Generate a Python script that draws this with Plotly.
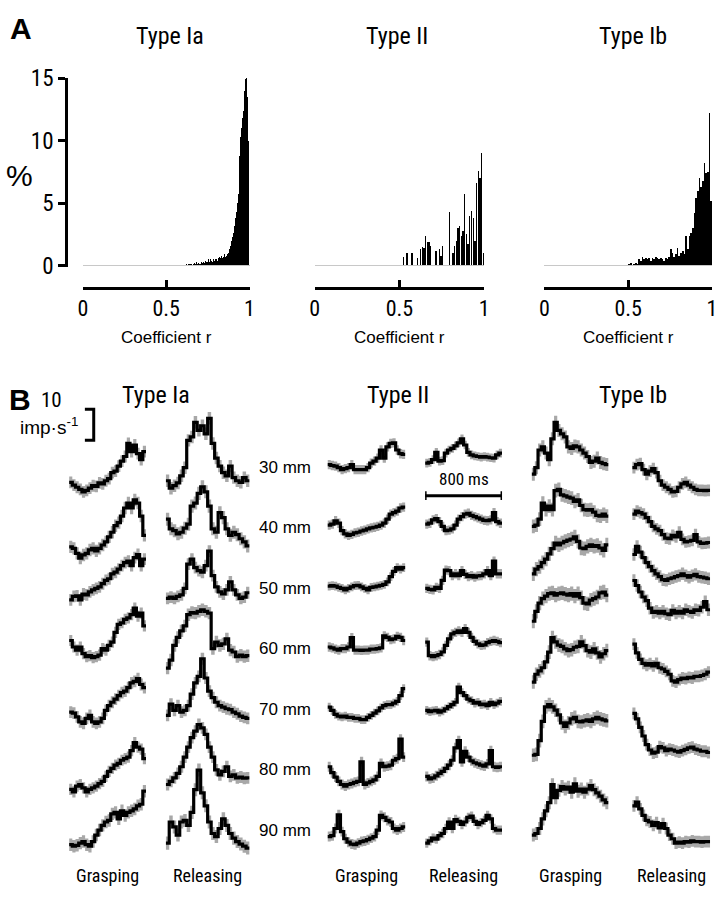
import numpy as np
import plotly.graph_objects as go

W, H = 724, 899
FONT = "Liberation Sans, Arial, sans-serif"
FONT_N = "Liberation Sans Narrow, Arial Narrow, Roboto Condensed, Liberation Sans, Arial, sans-serif"

# ---------------- Panel A data: distribution of correlation coefficient r (%) ----------------
R_IA = np.round(np.arange(0.600, 1.0, 0.005) + 0.0025, 4)
PCT_IA = [0, 0, 0.1, 0, 0.1, 0, 0.1, 0.1, 0, 0.1, 0.1, 0, 0.1, 0.2, 0.1, 0.1, 0.3, 0.1, 0.2, 0.1,
          0.2, 0.1, 0.3, 0.2, 0.3, 0.2, 0.3, 0.4, 0.3, 0.3, 0.5, 0.3, 0.4, 0.5, 0.4, 0.3, 0.5, 0.4, 0.6, 0.5,
          0.5, 0.4, 0.6, 0.7, 0.5, 0.6, 0.8, 0.6, 0.7, 0.9, 1.2, 0.7, 0.8, 0.9, 1.0, 1.1, 1.3, 1.6, 2.0, 2.3,
          2.6, 2.8, 3.2, 3.8, 4.3, 5.0, 5.7, 7.2, 8.8, 10.3, 11.0, 11.8, 12.4, 13.2, 14.0, 14.9, 15.0, 13.5, 10.0, 4.0]
R_II = np.round(np.arange(0.50, 1.0, 0.01) + 0.005, 3)
PCT_II = [0, 0, 0.65, 0, 1.0, 0, 0, 1.0, 0, 0,
          0.6, 0, 1.3, 1.5, 1.4, 2.4, 1.9, 1.9, 1.6, 0,
          0, 1.2, 0, 1.3, 0.8, 1.6, 0, 0, 0, 4.3,
          0, 1.0, 1.6, 2.0, 3.0, 3.2, 2.4, 2.8, 5.7, 2.5,
          1.7, 4.0, 4.4, 3.8, 2.0, 6.6, 7.6, 7.0, 9.0, 1.0]
R_IB = np.round(np.arange(0.50, 1.0, 0.01) + 0.005, 3)
PCT_IB = [0.1, 0.2, 0, 0.1, 0.2, 0.1, 0.5, 0.4, 0.7, 0.5,
          0.6, 0.5, 0.6, 0.4, 0.6, 0.5, 0.7, 0.6, 0.5, 0.6,
          0.5, 0.4, 0.6, 0.5, 0.7, 1.3, 1.0, 0.7, 0.9, 1.4,
          0.8, 1.0, 1.2, 0.9, 2.4, 1.3, 2.4, 2.6, 3.0, 4.2,
          5.4, 6.0, 7.0, 6.3, 6.8, 8.2, 7.4, 7.5, 12.2, 5.2]
R_TICKS = [0, 0.5, 1]
R_TICKTEXT = ["0", "0.5", "1"]
PCT_TICKS = [0, 5, 10, 15]

# ---------------- Panel B data: mean firing rate (imp/s, relative), 24 bins over 800 ms ----------------
DISTANCES = ["30 mm", "40 mm", "50 mm", "60 mm", "70 mm", "80 mm", "90 mm"]
WINDOW_MS = 800

IA_GRASP = [
    [-5.4, -6.3, -7.0, -7.7, -8.5, -8.0, -7.3, -6.5, -6.7, -5.6, -5.9, -4.9, -4.2, -2.3, -1.8, -0.2, 1.4, 2.9, 7.1, 4.5, 6.6, 3.8, 1.9, 4.5],
    [-6.7, -7.2, -8.8, -10.3, -9.3, -8.8, -7.7, -7.2, -8.0, -7.2, -6.1, -5.1, -3.5, -2.0, 0.1, 1.1, 3.2, 5.8, 7.4, 5.8, 8.4, 7.4, 3.2, -3.0],
    [-4.3, -3.2, -3.0, -4.3, -2.4, -2.7, -1.7, -1.1, -0.6, -0.1, 0.9, 2.0, 2.5, 4.1, 4.6, 5.6, 6.7, 7.7, 8.2, 6.7, 9.3, 10.3, 6.7, 8.8],
    [2.1, 0, -1.0, 0, -2.1, -3.1, -2.8, -3.4, -3.1, -2.6, -0.5, -1.0, 0.5, 1.6, 4.7, 7.3, 7.8, 8.9, 9.4, 10.4, 12.5, 9.9, 10.9, 6.8],
    [-1.5, -1.8, -3.0, -4.6, -5.1, -3.5, -2.5, -4.6, -5.1, -4.6, -3.5, -0.9, 0.6, 1.7, 2.7, 3.8, 4.8, 5.3, 6.4, 7.9, 8.4, 9.3, 7.4, 6.4],
    [-6.9, -7.7, -5.8, -5.3, -6.4, -7.7, -6.9, -6.4, -5.8, -5.0, -4.3, -2.7, -1.1, -0.1, 0.9, 1.5, 2.5, 3.0, 3.5, 5.6, 8.2, 6.7, 6.1, 3.0],
    [-5.2, -5.7, -5.4, -4.7, -4.2, -5.2, -5.7, -4.2, -2.1, -0.5, 1.0, 2.1, 2.6, 4.7, 5.2, 3.1, 5.7, 4.2, 5.2, 5.7, 6.3, 7.3, 7.8, 12.0],
]
IA_RELEASE = [
    [-4.9, -7.3, -6.5, -5.6, -3.3, -0.7, 8.1, 9.2, 13.9, 11.3, 12.8, 10.2, 15.2, 7.1, 2.4, -0.2, -2.3, -3.3, -0.2, -3.9, -4.9, -5.4, -3.9, -4.9],
    [2.2, -0.9, -1.5, -2.5, -2.0, -0.7, 0.6, 6.4, 7.4, 10.5, 12.6, 11.0, 6.4, -0.9, -2.0, 4.3, 2.7, -0.9, -3.0, -2.0, -2.8, -4.1, -5.1, -6.4],
    [-3.8, -3.4, -3.8, -3.2, -2.7, -0.6, 7.2, 8.8, 6.1, 5.1, 4.6, 6.7, 11.4, 3.5, -0.1, -1.7, -2.4, -1.1, 1.5, -1.1, -2.7, -3.8, -3.4, -2.0],
    [-6.8, -4.2, 0.5, 3.1, 5.2, 6.8, 10.4, 11.1, 10.9, 11.5, 12.0, 11.5, 10.9, -0.5, 1.6, 0.5, 1.0, 2.6, -1.0, -1.6, -3.1, -2.6, -3.1, -2.8],
    [-2.5, 1.1, -0.9, 0.6, -1.5, -0.9, 0.6, 4.3, 7.9, 10.0, 15.7, 9.5, 5.3, 3.2, 1.7, 0.6, 0.1, -0.4, -0.7, -1.5, -2.0, -2.8, -3.2, -3.5],
    [-5.3, -4.3, -3.2, -1.7, 0.4, 3.5, 6.7, 9.8, 11.9, 14.0, 12.9, 10.8, 6.7, 3.5, -0.6, -2.2, -1.1, 0.4, -2.7, -2.2, -3.2, -2.9, -3.3, -3.2],
    [-4.7, 2.1, 0.5, -2.1, 2.1, 2.6, 1.0, 5.2, 12.5, 18.8, 11.5, 7.3, 2.1, -1.6, -2.6, 0, 3.1, 1.0, -1.6, -3.1, -4.2, -5.0, -5.7, -6.3],
]
II_GRASP = [
    [0.3, 0, -0.2, -0.7, -1.3, -1.0, -0.7, 0.3, -1.3, -1.3, -1.3, -1.3, -0.7, 0.8, 1.4, 2.4, 5.0, 2.4, 6.0, 7.1, 7.3, 5.0, 3.8, 3.6],
    [0.3, 0.6, 1.7, 0.9, -1.5, -2.5, -3.0, -2.7, -2.2, -2.0, -1.6, -1.3, -0.9, -0.6, -0.4, -0.1, 0.3, 0.9, 2.2, 3.8, 4.3, 4.8, 5.8, 6.1],
    [0.1, 0.3, 0.1, -0.3, -0.6, -1.1, -0.6, -0.1, 0.3, 0.4, -0.1, -0.6, -1.1, -0.3, -0.1, 0.1, 0.4, 0.7, 1.5, 3.2, 4.9, 6.1, 5.6, 6.1],
    [0, -0.3, -0.7, -1.0, -0.5, -0.5, 0, 3.0, -1.0, -1.0, -1.1, -1.0, -1.0, -0.7, -0.7, -0.5, -0.3, 3.6, 3.1, 2.4, 2.6, 3.4, 3.1, 2.1],
    [0.1, -0.9, -2.2, -2.8, -3.0, -2.8, -3.2, -3.2, -3.5, -3.5, -3.9, -3.9, -3.2, -2.5, -1.8, -1.1, -0.1, 0.6, 0.9, 0.9, 1.4, 2.0, 3.8, 6.1],
    [0.4, -1.5, -2.9, -4.3, -5.3, -5.8, -5.3, -5.0, -4.6, -4.3, 2.0, -5.3, -4.8, -4.3, -3.8, -2.7, 1.5, 0.4, 0.6, 0.9, 2.5, 3.0, 9.3, 3.5],
    [-2.6, -2.3, 0, 4.4, -1.0, -3.3, -4.4, -5.0, -5.2, -4.7, -4.2, -4.0, -3.6, -3.1, -2.6, -0.5, 4.2, 3.6, 2.6, 2.1, 0, -0.5, 0, 0.5],
]
II_RELEASE = [
    [0.8, 1.0, 1.9, 4.2, 1.4, 1.6, 4.0, 5.0, 5.5, 6.3, 7.3, 8.6, 6.6, 4.2, 3.4, 3.1, 2.9, 2.7, 2.9, 2.7, 2.5, 2.4, 3.4, 4.0],
    [0.6, 0.9, 2.0, 2.4, 1.4, -0.1, -1.5, -1.3, -0.9, 0.3, 2.2, 3.0, 3.8, 4.1, 3.4, 3.0, 2.6, 2.2, 1.8, 1.7, 2.0, 4.3, 1.4, 0.9],
    [-0.6, -0.9, -1.1, -0.3, -0.6, 2.0, 5.3, 5.1, 3.5, 4.1, 3.5, 5.1, 3.9, 3.2, 3.5, 3.0, 3.4, 3.5, 4.1, 5.1, 3.5, 8.2, 4.1, 4.1],
    [1.6, -2.8, -3.1, -2.8, -2.4, -1.6, 0.5, 2.6, 4.2, 4.7, 5.2, 4.7, 5.9, 4.7, 3.1, 1.8, 1.0, 0.5, 0.7, 1.4, 1.8, 2.1, 1.8, 1.4],
    [-0.9, -1.3, -1.1, -0.9, -1.5, -1.1, -0.4, 0.3, 0.9, 1.7, 6.6, 4.8, 3.8, 2.7, 2.2, 1.4, 1.7, 0.9, 1.1, 0.6, 1.7, 0.9, 1.4, 2.0],
    [-2.7, -3.5, -3.2, -2.5, -1.7, -1.1, -0.1, 0.9, 2.5, 6.5, 8.8, 2.0, 5.4, 3.5, 2.3, 1.7, 1.3, 0.9, 0.6, 1.3, 5.6, 0.4, 0.2, 0.4],
    [-4.7, -4.0, -3.1, -3.4, -2.3, -1.6, 0, 2.1, 0, 2.9, 2.3, 1.3, 2.1, 3.6, 4.0, 2.3, 1.3, 1.9, 2.6, 4.2, 3.1, 0, -0.5, -0.5],
]
IB_GRASP = [
    [-2.8, -0.7, 5.0, 6.0, 4.0, 1.9, 8.6, 13.9, 11.3, 10.2, 9.2, 6.0, 5.5, 6.3, 6.0, 5.0, 4.0, 2.9, 1.0, 1.4, 2.4, 1.0, 0.6, 0.3],
    [-0.1, 0.3, 2.2, 7.4, 5.3, 6.4, 5.3, 11.4, 11.8, 10.0, 9.7, 9.3, 9.0, 7.9, 8.4, 6.6, 5.3, 5.1, 5.3, 4.5, 3.4, 3.2, 3.8, 3.2],
    [4.1, 5.6, 6.4, 7.7, 8.8, 10.5, 12.2, 14.0, 13.4, 14.0, 14.5, 14.9, 15.3, 16.0, 14.5, 12.4, 12.2, 12.9, 13.4, 12.9, 13.2, 12.4, 11.6, 13.4],
    [8.3, 11.5, 14.1, 15.6, 16.4, 17.2, 17.4, 16.7, 17.2, 17.4, 17.0, 16.7, 17.2, 16.4, 17.2, 15.9, 14.1, 13.9, 15.1, 15.6, 16.1, 17.4, 17.7, 16.7],
    [8.2, 10.7, 11.8, 12.8, 14.7, 17.8, 22.5, 21.1, 20.1, 19.7, 18.9, 18.3, 18.6, 19.4, 19.7, 21.1, 19.9, 18.3, 17.8, 18.9, 17.6, 16.3, 17.3, 18.3],
    [4.1, 4.4, 8.8, 15.0, 19.7, 20.4, 19.7, 18.6, 17.1, 14.5, 13.4, 14.5, 15.8, 16.3, 15.0, 14.8, 15.2, 15.5, 15.0, 15.8, 16.3, 15.8, 15.5, 15.2],
    [-2.1, -1.6, 0, 3.1, 5.7, 8.3, 14.1, 9.9, 12.3, 13.5, 12.7, 13.3, 11.7, 14.4, 12.0, 12.7, 11.7, 12.7, 13.8, 12.5, 11.5, 10.4, 9.2, 8.3],
]
IB_RELEASE = [
    [-0.7, 0.3, 0.6, -1.3, -2.8, -1.8, -1.0, -2.3, -4.9, -6.3, -7.0, -7.7, -8.5, -8.3, -7.0, -5.9, -5.4, -6.3, -7.0, -7.7, -8.0, -8.0, -8.1, -8.0],
    [3.8, 4.8, 4.3, 3.8, 2.7, 1.4, -0.1, -0.9, -1.5, -2.8, -3.9, -4.1, -3.0, -3.5, -2.0, -4.3, -5.1, -4.9, -4.6, -2.8, -5.1, -5.6, -5.5, -5.3],
    [10.3, 12.9, 11.1, 9.3, 7.7, 6.4, 5.1, 4.1, 3.2, 2.2, 2.0, 2.5, 2.8, 3.2, 3.5, 4.1, 3.5, 3.0, 3.5, 3.9, 3.2, 3.0, 2.8, 2.5],
    [21.4, 19.8, 17.7, 16.1, 14.9, 12.5, 11.1, 11.5, 10.9, 11.5, 10.7, 10.4, 11.8, 10.9, 11.5, 10.9, 12.0, 11.5, 11.1, 12.0, 11.8, 12.8, 14.6, 12.0],
    [20.4, 17.6, 15.5, 14.2, 13.6, 14.1, 13.4, 14.2, 12.8, 12.4, 11.6, 10.7, 8.6, 8.2, 9.0, 9.5, 9.3, 9.7, 9.5, 10.0, 10.0, 10.3, 10.7, 11.4],
    [17.6, 15.8, 13.1, 10.3, 7.5, 5.8, 4.8, 5.1, 6.9, 6.5, 5.6, 6.1, 5.8, 5.4, 5.1, 5.6, 6.0, 6.5, 6.7, 6.1, 5.8, 5.4, 5.4, 5.0],
    [7.3, 8.5, 6.3, 4.2, 2.6, 2.1, 1.0, 1.9, 0.2, 1.6, 0, -2.1, -3.3, -4.7, -4.4, -4.7, -4.2, -4.4, -4.0, -4.2, -4.2, -4.4, -4.2, -4.2],
]
# standard deviation (imp/s) of each mean trace
SD_IA_GRASP = [1.9, 2.0, 1.9, 1.8, 1.9, 1.8, 2.0]
SD_IA_RELEASE = [2.0, 2.1, 1.9, 2.0, 1.9, 1.9, 2.1]
SD_II_GRASP = [1.5, 1.5, 1.4, 1.5, 1.4, 1.6, 1.6]
SD_II_RELEASE = [1.4, 1.5, 1.5, 1.5, 1.4, 1.6, 1.5]
SD_IB_GRASP = [2.1, 2.2, 2.3, 2.3, 2.2, 2.2, 2.1]
SD_IB_RELEASE = [1.9, 1.9, 2.0, 2.0, 1.9, 1.9, 1.9]

SCALE_IMP = 10      # imp/s scale bar
SCALE_MS = 800      # time scale bar

# ---------------- layout helpers ----------------
def px_x(p):
    return p / W

def px_y(p):
    return 1 - p / H

fig = go.Figure()

# ---- Panel A histograms ----
hist_cols = [
    (R_IA, PCT_IA, 0.005, 79, 248),
    (R_II, PCT_II, 0.008, 314, 486),
    (R_IB, PCT_IB, 0.01, 547, 717),
]
for k, (r, p, w, x0, x1) in enumerate(hist_cols):
    n = "" if k == 0 else str(k + 1)
    fig.add_trace(go.Bar(x=r, y=p, width=w, marker=dict(color="black", line=dict(width=0)),
                         xaxis="x" + n, yaxis="y" + n, showlegend=False))
    fig.layout["xaxis" + n] = dict(
        domain=[px_x(x0), px_x(x1)], range=[0, 1.0005], anchor="free", position=px_y(283),
        side="bottom", ticks="inside", ticklen=7, tickwidth=3, showline=True, linewidth=3,
        linecolor="black", tickcolor="black", tickvals=R_TICKS, ticktext=R_TICKTEXT,
        ticklabeloverflow="allow", showgrid=False, zeroline=False,
        tickfont=dict(size=22, color="black", family=FONT_N), fixedrange=True)
    ya = dict(domain=[px_y(261.3), px_y(67)], range=[-0.1, 15.005], showgrid=False,
              zeroline=True, zerolinecolor="#c8c8c8", zerolinewidth=1)
    if k == 0:
        ya.update(anchor="free", position=px_x(62), ticks="outside", ticklen=7, tickwidth=3,
                  showline=True, linewidth=3, linecolor="black", tickcolor="black",
                  tickvals=PCT_TICKS, ticklabeloverflow="allow",
                  tickfont=dict(size=23, color="black", family=FONT_N))
    else:
        ya.update(anchor="x" + n, showline=False, showticklabels=False, ticks="")
    fig.layout["yaxis" + n] = ya

# ---- Panel B traces ----
ROW0_PX, ROW_PX, PX_PER_IMP = 466, 62.3, 3.2
ROW_GAP = ROW_PX / PX_PER_IMP
B_TOP, B_BOT = 380, 880
Y_MAX = (ROW0_PX - B_TOP) / PX_PER_IMP
Y_MIN = (ROW0_PX - B_BOT) / PX_PER_IMP

b_cols = [
    (IA_GRASP, SD_IA_GRASP, 65, 143),
    (IA_RELEASE, SD_IA_RELEASE, 163, 248),
    (II_GRASP, SD_II_GRASP, 327, 406),
    (II_RELEASE, SD_II_RELEASE, 426, 504),
    (IB_GRASP, SD_IB_GRASP, 534, 612),
    (IB_RELEASE, SD_IB_RELEASE, 636, 715),
]
for c, (rows, sds, x0, x1) in enumerate(b_cols):
    n = str(c + 4)
    fig.layout["xaxis" + n] = dict(domain=[px_x(x0), px_x(x1)], range=[0, WINDOW_MS],
                                   visible=False, anchor="y" + n, fixedrange=True)
    fig.layout["yaxis" + n] = dict(domain=[px_y(B_BOT), px_y(B_TOP)], range=[Y_MIN, Y_MAX],
                                   visible=False, anchor="x" + n, fixedrange=True)
    for r, (vals, sd) in enumerate(zip(rows, sds)):
        edges = np.linspace(0, WINDOW_MS, len(vals) + 1)
        y = np.append(vals, vals[-1]) - r * ROW_GAP
        common = dict(x=edges, xaxis="x" + n, yaxis="y" + n, showlegend=False,
                      hoverinfo="skip", line_shape="hv")
        fig.add_trace(go.Scatter(y=y - sd, mode="lines", line=dict(width=0, color="#a8a8a8"), **common))
        fig.add_trace(go.Scatter(y=y + sd, mode="lines", line=dict(width=0, color="#a8a8a8"),
                                 fill="tonexty", fillcolor="#a8a8a8", **common))
        fig.add_trace(go.Scatter(y=y, mode="lines", line=dict(width=3.2, color="black"), **common))

# scale bar 10 imp/s (in Ia grasping axes)
BAR_X, BAR_TICK, BAR_Y0 = 256, 92, 8.1
fig.add_trace(go.Scatter(x=[BAR_X - BAR_TICK, BAR_X, BAR_X, BAR_X - BAR_TICK],
                         y=[BAR_Y0 + SCALE_IMP, BAR_Y0 + SCALE_IMP, BAR_Y0, BAR_Y0],
                         mode="lines", line=dict(color="black", width=3), xaxis="x4", yaxis="y4",
                         showlegend=False, hoverinfo="skip"))
# scale bar 800 ms (in Type II releasing axes)
TB_Y, TB_CAP = -9.7, 1.4
fig.add_trace(go.Scatter(x=[0, 0, None, 0, SCALE_MS, None, SCALE_MS, SCALE_MS],
                         y=[TB_Y + TB_CAP, TB_Y - TB_CAP, None, TB_Y, TB_Y, None, TB_Y + TB_CAP, TB_Y - TB_CAP],
                         mode="lines", line=dict(color="black", width=3), xaxis="x7", yaxis="y7",
                         showlegend=False, hoverinfo="skip"))

# ---------------- text ----------------
ann = []

def text(s, x, y, size, xanchor="center", bold=False, family=FONT):
    ann.append(dict(text=("<b>%s</b>" % s) if bold else s, x=px_x(x), y=px_y(y), xref="paper",
                    yref="paper", xanchor=xanchor, yanchor="middle", showarrow=False,
                    font=dict(size=size, color="black", family=family)))

text("A", 3, 16, 30, "left", True)
text("B", 2, 398, 30, "left", True)
for s, x in [("Type Ia", 167), ("Type II", 397), ("Type Ib", 637)]:
    text(s, x, 24, 24, family=FONT_N)
for x in [164, 400, 632]:
    text("Coefficient r", x, 334, 17)
text("%", 15, 167, 30)
for s, x in [("Type Ia", 153), ("Type II", 398), ("Type Ib", 637)]:
    text(s, x, 393, 24, family=FONT_N)
text("10", 47, 399, 21, family=FONT_N)
text("imp·s<sup>-1</sup>", 45, 425, 19)
text(f"{SCALE_MS} ms", 465, 480, 17, family=FONT_N)
for r, d in enumerate(DISTANCES):
    text(d, 312, ROW0_PX + 2 + r * ROW_PX, 17, "right")
for x, s in [(104, "Grasping"), (205, "Releasing"), (367, "Grasping"), (465, "Releasing"),
             (573, "Grasping"), (676, "Releasing")]:
    text(s, x, 888, 18, family=FONT_N)

fig.update_layout(width=W, height=H, margin=dict(l=0, r=0, t=0, b=0), paper_bgcolor="white",
                  plot_bgcolor="white", bargap=0, barmode="overlay", annotations=ann,
                  font=dict(family=FONT, color="black"), showlegend=False)

# remove the default page margin so the 724x899 figure fills the window exactly
fig.write_html("out.html", config={"displayModeBar": False, "staticPlot": True},
               post_script="document.body.style.margin='0';document.body.style.overflow='hidden';")
